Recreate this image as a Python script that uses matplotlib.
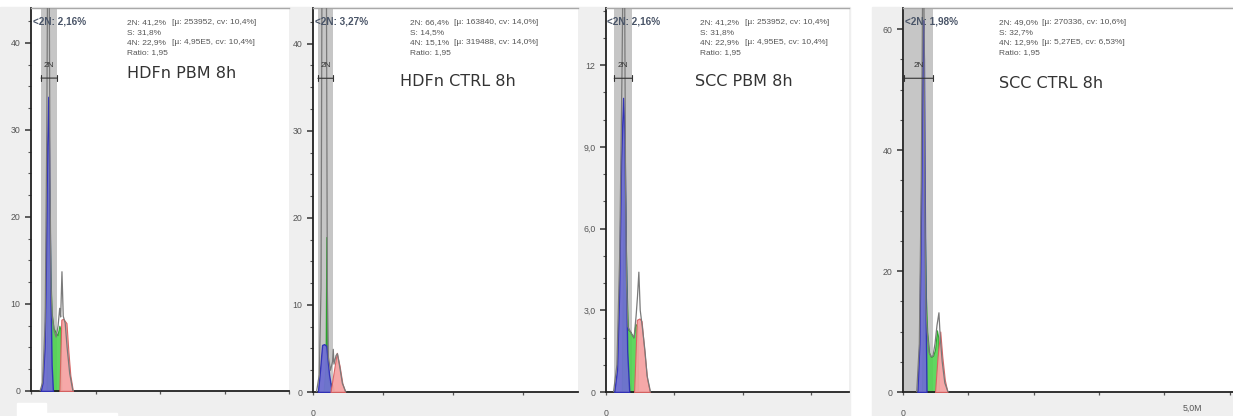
import numpy as np
import matplotlib
matplotlib.use("Agg")
import matplotlib.pyplot as plt
from matplotlib.patches import Rectangle
from matplotlib.ticker import MultipleLocator, FuncFormatter

W, H = 1233, 416

# ---- data (x in millions, y = counts) ----
titles = ["HDFn PBM 8h", "HDFn CTRL 8h", "SCC PBM 8h", "SCC CTRL 8h"]
gate_labels = ["<2N: 2,16%", "<2N: 3,27%", "<2N: 2,16%", "<2N: 1,98%"]
stat_left = [
    ["2N: 41,2%", "S: 31,8%", "4N: 22,9%", "Ratio: 1,95"],
    ["2N: 66,4%", "S: 14,5%", "4N: 15,1%", "Ratio: 1,95"],
    ["2N: 41,2%", "S: 31,8%", "4N: 22,9%", "Ratio: 1,95"],
    ["2N: 49,0%", "S: 32,7%", "4N: 12,9%", "Ratio: 1,95"],
]
stat_right = [
    ["[µ: 253952, cv: 10,4%]", "", "[µ: 4,95E5, cv: 10,4%]", ""],
    ["[µ: 163840, cv: 14,0%]", "", "[µ: 319488, cv: 14,0%]", ""],
    ["[µ: 253952, cv: 10,4%]", "", "[µ: 4,95E5, cv: 10,4%]", ""],
    ["[µ: 270336, cv: 10,6%]", "", "[µ: 5,27E5, cv: 6,53%]", ""],
]
gate_lo = [0.155, 0.07, 0.12, 0.01]
gate_hi = [0.40, 0.29, 0.38, 0.46]

p1_g1_x = [0.15, 0.18, 0.21, 0.23, 0.25, 0.268, 0.28, 0.30, 0.32, 0.34]
p1_g1 = [0, 1, 5, 14, 28, 33.8, 27, 12, 3, 0]
p1_s_x = [0.24, 0.255, 0.27, 0.285, 0.30, 0.32, 0.35, 0.38, 0.41, 0.44, 0.46, 0.47]
p1_s = [0, 12, 28, 22, 14, 9, 7.2, 6.8, 6.4, 7.5, 7, 0]
p1_g2_x = [0.44, 0.47, 0.50, 0.55, 0.58, 0.61, 0.65]
p1_g2 = [0, 8.2, 8.3, 7.8, 4.5, 1.8, 0]
p1_tot_x = [0.14, 0.18, 0.22, 0.245, 0.26, 0.28, 0.295, 0.31, 0.33, 0.36, 0.39,
            0.42, 0.445, 0.46, 0.48, 0.50, 0.53, 0.56, 0.60, 0.65]
p1_tot = [0, 1, 8, 30, 52, 52, 24, 12, 8.5, 6.9, 6.2, 7.5, 9.5, 8.5, 13.7, 8.6,
          7.8, 5.0, 2.0, 0]

p2_g1_x = [0.07, 0.10, 0.13, 0.16, 0.19, 0.23, 0.27]
p2_g1 = [0, 2.5, 5.4, 5.5, 5.3, 2.0, 0]
p2_s_x = [0.15, 0.18, 0.19, 0.20, 0.22, 0.25, 0.28, 0.30]
p2_s = [0, 3, 17.8, 3, 1.2, 1.0, 0.8, 0]
p2_g2_x = [0.25, 0.29, 0.34, 0.38, 0.42, 0.46]
p2_g2 = [0, 2.0, 4.5, 3.0, 1.0, 0]
p2_tot_x = [0.05, 0.09, 0.115, 0.13, 0.16, 0.19, 0.205, 0.22, 0.25, 0.28, 0.29,
            0.30, 0.33, 0.35, 0.38, 0.42, 0.47]
p2_tot = [0, 2, 12, 52, 52, 52, 12, 4, 2.5, 3.5, 4.9, 3.2, 4.2, 4.4, 3.0, 1.0, 0]

p3_g1_x = [0.12, 0.16, 0.19, 0.22, 0.25, 0.27, 0.29, 0.31, 0.34]
p3_g1 = [0, 0.8, 3.5, 8.5, 10.8, 9.5, 5.0, 1.5, 0]
p3_s_x = [0.23, 0.25, 0.265, 0.28, 0.30, 0.32, 0.36, 0.40, 0.43, 0.46, 0.47]
p3_s = [0, 5, 9.0, 7, 4, 2.3, 2.2, 2.0, 2.5, 2.4, 0]
p3_g2_x = [0.41, 0.45, 0.49, 0.52, 0.56, 0.60, 0.64]
p3_g2 = [0, 2.65, 2.7, 2.6, 1.5, 0.5, 0]
p3_tot_x = [0.11, 0.16, 0.20, 0.235, 0.25, 0.27, 0.285, 0.30, 0.32, 0.35, 0.38,
            0.41, 0.44, 0.46, 0.48, 0.50, 0.53, 0.57, 0.60, 0.65]
p3_tot = [0, 1, 5, 12, 16, 16, 8, 4, 2.4, 2.25, 2.1, 2.0, 2.8, 3.5, 4.4, 3.0,
          2.4, 1.5, 0.6, 0]

p4_g1_x = [0.22, 0.25, 0.28, 0.30, 0.31, 0.32, 0.34, 0.36]
p4_g1 = [0, 8, 35, 58, 61.5, 55, 20, 0]
p4_s_x = [0.29, 0.31, 0.33, 0.35, 0.37, 0.40, 0.43, 0.46, 0.49, 0.52, 0.54, 0.55]
p4_s = [0, 15, 29.8, 16, 10, 6.5, 5.8, 6.0, 7.0, 10.2, 9, 0]
p4_g2_x = [0.49, 0.53, 0.57, 0.60, 0.64, 0.68]
p4_g2 = [0, 6, 10, 6, 2, 0]
p4_tot_x = [0.21, 0.25, 0.28, 0.30, 0.32, 0.335, 0.35, 0.37, 0.40, 0.43, 0.46,
            0.49, 0.52, 0.55, 0.57, 0.60, 0.64, 0.69]
p4_tot = [0, 8, 35, 66, 66, 30, 14, 10, 6.5, 5.8, 6.0, 8, 11, 13.1, 9, 5, 1.5, 0]

g1_xs = [p1_g1_x, p2_g1_x, p3_g1_x, p4_g1_x]
g1_ys = [p1_g1, p2_g1, p3_g1, p4_g1]
s_xs = [p1_s_x, p2_s_x, p3_s_x, p4_s_x]
s_ys = [p1_s, p2_s, p3_s, p4_s]
g2_xs = [p1_g2_x, p2_g2_x, p3_g2_x, p4_g2_x]
g2_ys = [p1_g2, p2_g2, p3_g2, p4_g2]
tot_xs = [p1_tot_x, p2_tot_x, p3_tot_x, p4_tot_x]
tot_ys = [p1_tot, p2_tot, p3_tot, p4_tot]

# ---- layout (pixels) ----
ax_px = [(31, 289), (313, 578), (606, 849), (903, 1233)]
ax_top, ax_bot = [8, 8, 8, 8], [391, 392, 392, 392]
xmax = [4.0, 3.79, 3.55, 5.05]
ymax = [44.0, 44.1, 14.1, 63.5]
ymaj = [10, 10, 3, 20]
ymin_ = [2.5, 2.5, 1, 5]
bg_px = [(0, 290), (290, 580), (580, 850), (872, 1233)]
title_y = [74, 81, 82, 83]
stat_x = [127, 410, 700, 999]
stat_x2 = [172, 454, 745, 1042]
title_x = [127, 400, 695, 999]

fig = plt.figure(figsize=(W / 100, H / 100), dpi=100)
fig.patch.set_facecolor("white")

def fx(x):
    return x / W

def fy(y):
    return 1 - y / H

for x0, x1 in bg_px:
    fig.patches.append(Rectangle((fx(x0), 0), (x1 - x0) / W, fy(7),
                                 transform=fig.transFigure, color="#efefef", zorder=-10))
# white scraps at the bottom of the first panel
fig.patches.append(Rectangle((fx(17), 0), 29 / W, 13 / H, transform=fig.transFigure,
                             color="white", zorder=-5))
fig.patches.append(Rectangle((fx(46), 0), 71 / W, 3 / H, transform=fig.transFigure,
                             color="white", zorder=-5))

def yfmt3(v, pos):
    if abs(v) < 1e-9:
        return "0"
    if v >= 12:
        return "%d" % v
    return ("%.1f" % v).replace(".", ",")

for i in range(4):
    x0, x1 = ax_px[i]
    ax = fig.add_axes([fx(x0), fy(ax_bot[i]), (x1 - x0) / W, (ax_bot[i] - ax_top[i]) / H])
    ax.set_facecolor("white")
    ax.set_xlim(0, xmax[i])
    ax.set_ylim(0, ymax[i])

    ax.axvspan(gate_lo[i], gate_hi[i], color="#c6c6c6", zorder=0, lw=0)
    ax.fill_between(s_xs[i], s_ys[i], color="#4fd34f", alpha=0.9, lw=0.8,
                    edgecolor="#22a022", zorder=2)
    ax.fill_between(g1_xs[i], g1_ys[i], color="#6f6fd2", alpha=0.95, lw=1.0,
                    edgecolor="#2f2fb8", zorder=3)
    ax.fill_between(g2_xs[i], g2_ys[i], color="#f6a3a3", alpha=0.95, lw=0.8,
                    edgecolor="#d86060", zorder=3)
    ax.plot(tot_xs[i], tot_ys[i], color="#7a7a7a", lw=0.9, zorder=4)

    ax.spines["right"].set_visible(False)
    ax.spines["top"].set_color("#a8a8a8")
    ax.spines["top"].set_linewidth(1.0)
    for s in ["left", "bottom"]:
        ax.spines[s].set_color("#222222")
        ax.spines[s].set_linewidth(1.3)

    ax.yaxis.set_major_locator(MultipleLocator(ymaj[i]))
    ax.yaxis.set_minor_locator(MultipleLocator(ymin_[i]))
    if i == 2:
        ax.yaxis.set_major_formatter(FuncFormatter(yfmt3))
    else:
        ax.yaxis.set_major_formatter(FuncFormatter(lambda v, p: "%d" % v))
    ax.xaxis.set_major_locator(MultipleLocator(1))
    if i == 0:
        ax.xaxis.set_major_formatter(FuncFormatter(lambda v, p: ""))
    else:
        ax.xaxis.set_major_formatter(FuncFormatter(lambda v, p: "0" if abs(v) < 1e-9 else ""))
    ax.tick_params(axis="y", which="major", length=4.5, width=1.1, color="#333333",
                   labelsize=6.3, labelcolor="#555555", pad=3)
    ax.tick_params(axis="y", which="minor", length=2, width=0.8, color="#555555")
    ax.tick_params(axis="x", which="major", length=2.5, width=0.9, color="#555555",
                   labelsize=6.3, labelcolor="#555555", pad=9.5)
    for lab in ax.get_yticklabels() + ax.get_xticklabels():
        lab.set_family("Liberation Sans")

    if i == 3:
        ax.text(4.43, -0.032, "5,0M", transform=ax.get_xaxis_transform(),
                ha="center", va="top", fontsize=6.3, color="#555555",
                family="Liberation Sans")

    # gate bracket and labels
    ax.annotate("", xy=(gate_lo[i], 0.817), xytext=(gate_hi[i], 0.817),
                xycoords=("data", "axes fraction"), textcoords=("data", "axes fraction"),
                arrowprops=dict(arrowstyle="|-|,widthA=0.2,widthB=0.2", lw=0.8,
                                color="#333333", shrinkA=0, shrinkB=0), zorder=6)
    ax.text((gate_lo[i] + gate_hi[i]) / 2, 0.84, "2N", transform=ax.get_xaxis_transform(),
            ha="center", va="bottom", fontsize=6, color="#333333",
            family="Liberation Sans", zorder=6)
    ax.text(0.006, 0.978, gate_labels[i], transform=ax.transAxes, ha="left", va="top",
            fontsize=7.2, color="#4a5568", weight="bold", family="Liberation Sans",
            zorder=7)

    # statistics block
    for k in range(4):
        yy = 23 + k * 9.7
        fig.text(fx(stat_x[i]), fy(yy), stat_left[i][k], ha="left", va="center",
                 fontsize=6.0, color="#555555", family="Liberation Sans")
        if stat_right[i][k]:
            fig.text(fx(stat_x2[i]), fy(yy), stat_right[i][k], ha="left", va="center",
                     fontsize=6.0, color="#555555", family="Liberation Sans")
    fig.text(fx(title_x[i]), fy(title_y[i]), titles[i], ha="left", va="center",
             fontsize=11.5, color="#333333", family="DejaVu Sans")

fig.savefig("out.png", dpi=100)
